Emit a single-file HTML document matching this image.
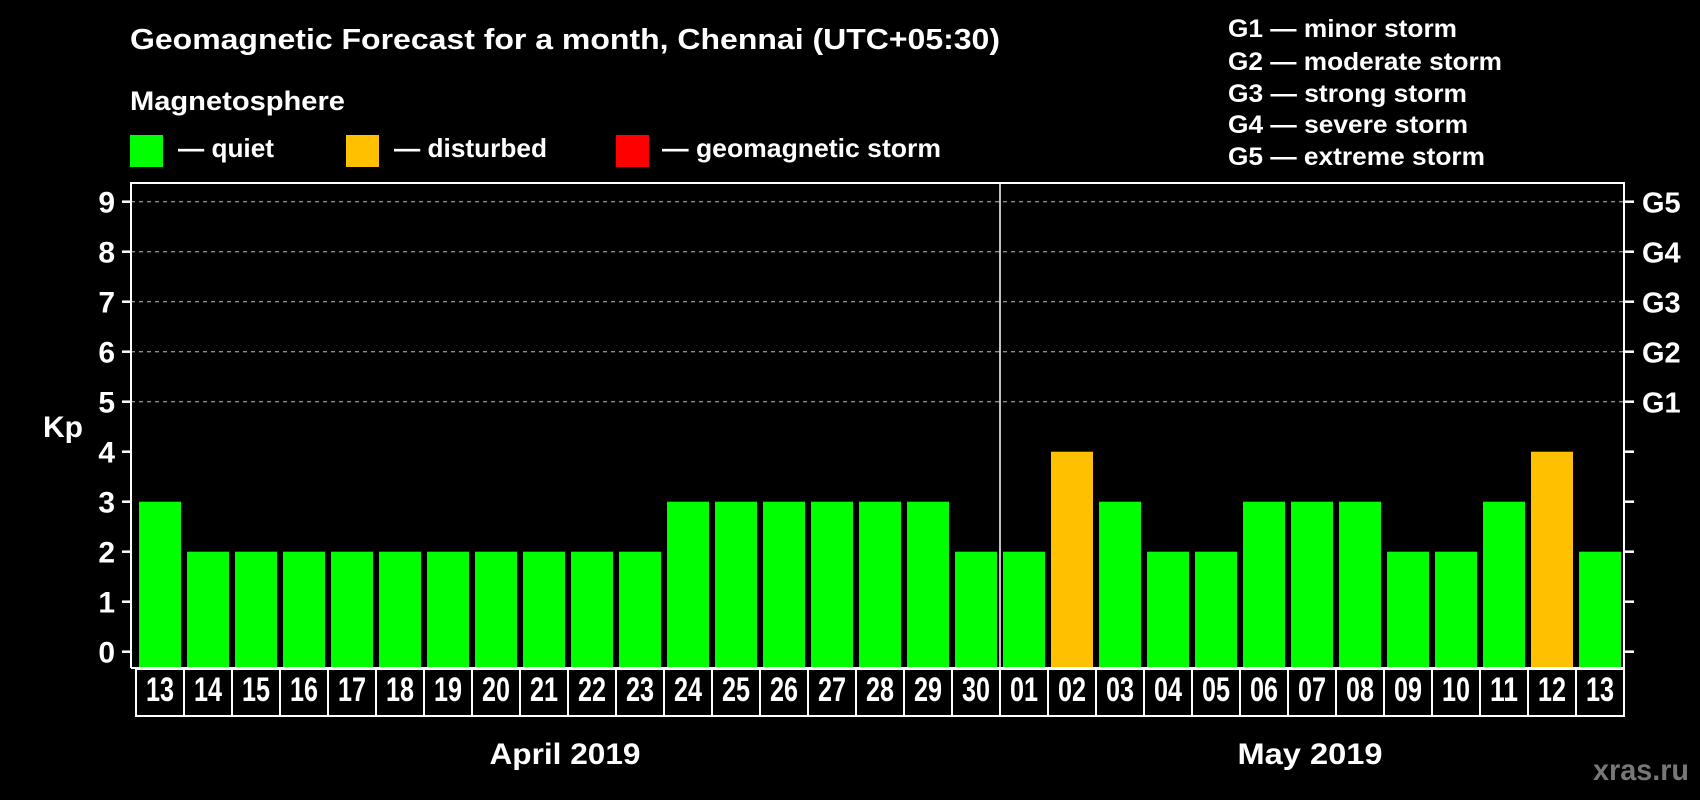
<!DOCTYPE html>
<html><head><meta charset="utf-8"><style>
html,body{margin:0;padding:0;background:#000;}
svg{display:block;font-family:"Liberation Sans",sans-serif;font-weight:bold;}
</style></head><body>
<svg id="chart" width="1700" height="800" viewBox="0 0 1700 800" xmlns="http://www.w3.org/2000/svg">
<rect width="1700" height="800" fill="#000"/>
<text x="130" y="49" fill="#fff" font-size="29" textLength="870" lengthAdjust="spacingAndGlyphs">Geomagnetic Forecast for a month, Chennai (UTC+05:30)</text>
<text x="130" y="110" fill="#fff" font-size="27" textLength="215" lengthAdjust="spacingAndGlyphs">Magnetosphere</text>
<rect x="130" y="135" width="33" height="32" fill="#00ff00"/>
<text x="178" y="157" fill="#fff" font-size="26" textLength="96" lengthAdjust="spacingAndGlyphs">— quiet</text>
<rect x="346" y="135" width="33" height="32" fill="#ffc000"/>
<text x="394" y="157" fill="#fff" font-size="26" textLength="153" lengthAdjust="spacingAndGlyphs">— disturbed</text>
<rect x="616" y="135" width="33" height="32" fill="#ff0000"/>
<text x="662" y="157" fill="#fff" font-size="26" textLength="279" lengthAdjust="spacingAndGlyphs">— geomagnetic storm</text>
<g fill="#fff" font-size="25">
<text x="1228" y="37" textLength="229" lengthAdjust="spacingAndGlyphs">G1 — minor storm</text>
<text x="1228" y="70" textLength="274" lengthAdjust="spacingAndGlyphs">G2 — moderate storm</text>
<text x="1228" y="102" textLength="239" lengthAdjust="spacingAndGlyphs">G3 — strong storm</text>
<text x="1228" y="133" textLength="240" lengthAdjust="spacingAndGlyphs">G4 — severe storm</text>
<text x="1228" y="165" textLength="257" lengthAdjust="spacingAndGlyphs">G5 — extreme storm</text>
</g>
<text x="43" y="437" fill="#fff" font-size="30" textLength="40" lengthAdjust="spacingAndGlyphs">Kp</text>
<g id="plot"></g>
<text x="565" y="764" fill="#fff" font-size="30" text-anchor="middle" textLength="151" lengthAdjust="spacingAndGlyphs">April 2019</text>
<text x="1310" y="764" fill="#fff" font-size="30" text-anchor="middle" textLength="145" lengthAdjust="spacingAndGlyphs">May 2019</text>
<text x="1689" y="780" fill="#777" font-size="30" text-anchor="end" textLength="96" lengthAdjust="spacingAndGlyphs">xras.ru</text>
</svg>
<script>
const days = ["13","14","15","16","17","18","19","20","21","22","23","24","25","26","27","28","29","30","01","02","03","04","05","06","07","08","09","10","11","12","13"];
const kpValues = [3,2,2,2,2,2,2,2,2,2,2,3,3,3,3,3,3,2,2,4,3,2,2,3,3,3,2,2,3,4,2];
const yTicks = [0,1,2,3,4,5,6,7,8,9];
const gLabels = ["G1","G2","G3","G4","G5"];
const gLevels = [5,6,7,8,9];

const NS="http://www.w3.org/2000/svg";
const plotG=document.getElementById('plot');
const pLeft=131, pRight=1624, pTop=183, pBottom=668, x0=136, bw=48;
const yS=v=>651.7-v*50;
const xS=i=>x0+i*bw;
function mk(t,a){const e=document.createElementNS(NS,t);for(const k in a)e.setAttribute(k,a[k]);plotG.appendChild(e);return e;}
function color(v){return v>=5?"#ff0000":(v>=4?"#ffc000":"#00ff00");}

gLevels.forEach(v=>{
  const l=mk('line',{x1:pLeft,x2:pRight,y1:yS(v),y2:yS(v),stroke:"#8a8a8a","stroke-width":1.3,"stroke-dasharray":"4 4"});
  
  
});
kpValues.forEach((v,i)=>{
  const r=mk('rect',{x:xS(i)+3,y:yS(v),width:bw-6,height:yS(0)-yS(v)+16.3,fill:color(v)});
  
  
});
const frame=mk('path',{d:`M${pLeft},${pBottom} V${pTop} H${pRight} V${pBottom} H${pLeft}`,fill:"none",stroke:"#fff","stroke-width":2});


const div=mk('line',{x1:xS(18),x2:xS(18),y1:pTop,y2:pBottom,stroke:"#fff","stroke-width":1.5});


yTicks.forEach(v=>{
  mk('line',{x1:122,x2:pLeft,y1:yS(v),y2:yS(v),stroke:"#fff","stroke-width":2.5});
  mk('line',{x1:pRight,x2:1634,y1:yS(v),y2:yS(v),stroke:"#fff","stroke-width":2.5});
  const t=mk('text',{x:115,y:yS(v)+11,fill:"#fff","font-size":30,"text-anchor":"end"});
  t.textContent=v;
  
  
});
gLevels.forEach((v,i)=>{
  const t=mk('text',{x:1642,y:yS(v)+11,fill:"#fff","font-size":29});
  t.textContent=gLabels[i];
  
  
});
days.forEach((d,i)=>{
  const b=mk('rect',{x:xS(i),y:669,width:bw,height:47,fill:"none",stroke:"#fff","stroke-width":2});
  
  
  const t=mk('text',{x:xS(i)+bw/2,y:701,fill:"#fff","font-size":34,"text-anchor":"middle",textLength:28,lengthAdjust:"spacingAndGlyphs"});
  t.textContent=d;
  
  
});
</script>
</body></html>
